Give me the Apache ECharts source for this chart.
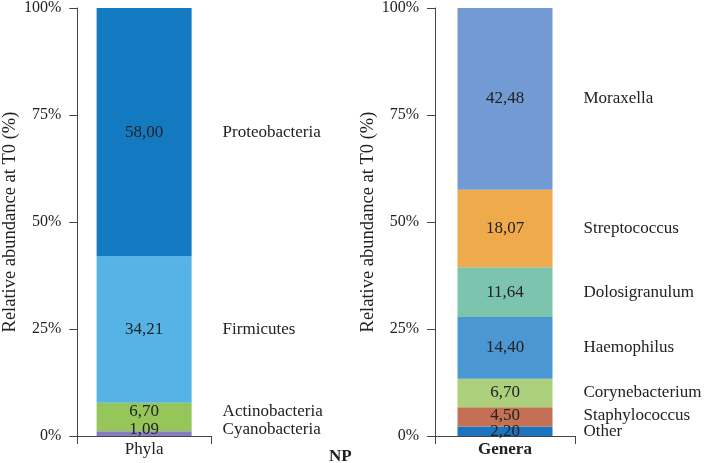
<!DOCTYPE html>
<html><head><meta charset="utf-8">
<script src="https://cdn.jsdelivr.net/npm/echarts@6/dist/echarts.min.js"></script>
<style>html,body{margin:0;padding:0;background:#fff}#c{width:715px;height:463px}</style>
</head><body><div id="c"></div>
<script>
const yTicks = [0, 25, 50, 75, 100];
const phylaCategory = ['Phyla'];
const phylaNames = ['Cyanobacteria', 'Actinobacteria', 'Firmicutes', 'Proteobacteria'];
const phylaValues = [1.09, 6.70, 34.21, 58.00];
const phylaColors = ['#8a7cc0', '#96c659', '#55b3e6', '#137ac2'];
const generaCategory = ['Genera'];
const generaNames = ['Other', 'Staphylococcus', 'Corynebacterium', 'Haemophilus', 'Dolosigranulum', 'Streptococcus', 'Moraxella'];
const generaValues = [2.20, 4.50, 6.70, 14.40, 11.64, 18.07, 42.48];
const generaColors = ['#1a74bf', '#c47055', '#add07c', '#4a97d4', '#7cc4ae', '#efaa4b', '#729bd3'];
const panelTitle = 'NP';
const yTitle = 'Relative abundance at T0 (%)';

const FONT = 'Liberation Serif';
const TXT = '#222';
const FS = 17;
const small = { 'Cyanobacteria': -4, 'Actinobacteria': -5 };

function yAxis(gi) {
  return {
    gridIndex: gi, type: 'value', min: yTicks[0], max: yTicks[yTicks.length - 1], interval: yTicks[1] - yTicks[0],
    name: yTitle, nameLocation: 'middle', nameGap: 55,
    nameTextStyle: { fontFamily: FONT, fontSize: 18.5, color: TXT },
    axisLine: { show: true, lineStyle: { color: '#444', width: 1 } },
    axisTick: { show: true, length: 8, lineStyle: { color: '#444' } },
    axisLabel: { fontFamily: FONT, fontSize: 16, color: TXT, margin: 16, formatter: v => v + '%' },
    splitLine: { show: false }
  };
}
function xAxis(gi, cats, bold) {
  return {
    gridIndex: gi, type: 'category', data: cats,
    axisLine: { show: true, lineStyle: { color: '#444', width: 1 } },
    axisTick: { show: true, length: 8, lineStyle: { color: '#444' } },
    axisLabel: { fontFamily: FONT, fontSize: FS, color: TXT, fontWeight: bold ? 'bold' : 'normal', margin: 5 }
  };
}
function fmt(v) { return v.toFixed(2).replace('.', ','); }

const series = [];
function addPanel(gi, names, values, colors, offs) {
  names.forEach((n, i) => {
    const dy = offs[n] || 0;
    series.push({
      type: 'bar', name: n, xAxisIndex: gi, yAxisIndex: gi, stack: 'v' + gi,
      barWidth: 95, barGap: '-100%',
      data: [values[i]],
      itemStyle: { color: colors[i] },
      label: { show: true, position: 'inside', offset: [0, dy], fontFamily: FONT, fontSize: FS, color: TXT,
               formatter: p => fmt(p.value) },
      emphasis: { disabled: true }
    });
  });
  names.forEach((n, i) => {
    const dy = offs[n] || 0;
    series.push({
      type: 'bar', name: n + '_lbl', xAxisIndex: gi, yAxisIndex: gi, stack: 'l' + gi,
      barWidth: 95, barGap: '-100%',
      data: [values[i]],
      itemStyle: { color: 'rgba(0,0,0,0)' },
      label: { show: true, position: 'right', distance: 31, offset: [0, dy], fontFamily: FONT, fontSize: FS, color: TXT,
               formatter: () => n },
      emphasis: { disabled: true }, z: 1
    });
  });
}
addPanel(0, phylaNames, phylaValues, phylaColors, small);
addPanel(1, generaNames, generaValues, generaColors, { 'Staphylococcus': -1 });

const chart = echarts.init(document.getElementById('c'), null, { renderer: 'canvas' });
chart.setOption({
  animation: false,
  backgroundColor: '#fff',
  title: { text: panelTitle, left: 324, top: 443, textStyle: { fontFamily: FONT, fontSize: FS, fontWeight: 'bold', color: TXT } },
  grid: [
    { left: 70, top: 6, width: 141, height: 430 },
    { left: 435, top: 6, width: 140, height: 430 }
  ],
  xAxis: [xAxis(0, phylaCategory, false), xAxis(1, generaCategory, true)],
  yAxis: [yAxis(0), yAxis(1)],
  series: series
});
</script></body></html>
